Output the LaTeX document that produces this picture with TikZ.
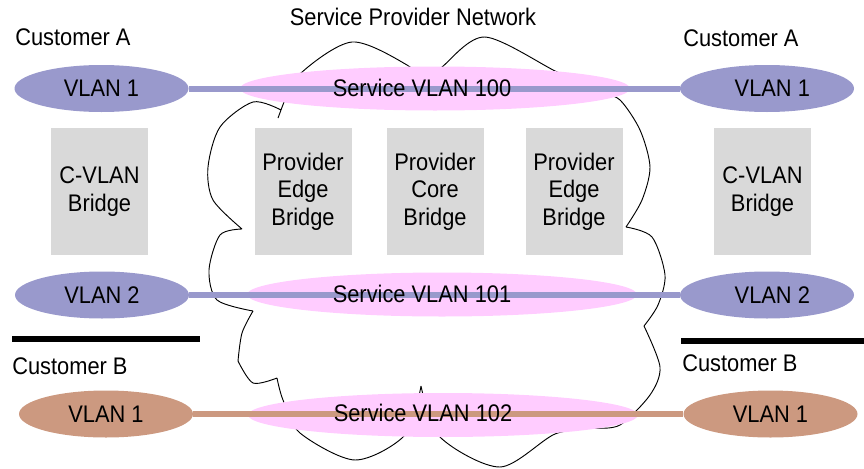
\documentclass[tikz,border=0pt]{standalone}
\usepackage{fontspec}
\setmainfont{Liberation Sans}[FakeStretch=0.91]
\usetikzlibrary{shapes,positioning}
\definecolor{custA}{HTML}{9999CC}
\definecolor{custB}{HTML}{CC9980}
\definecolor{svlanpink}{HTML}{FFCCFF}
\definecolor{bridgegray}{HTML}{D9D9D9}

\begin{document}
\begin{tikzpicture}[x=0.75pt,y=-0.75pt,
		font=\fontsize{18}{20.5}\selectfont,
		vlan/.style={ellipse,inner sep=0pt,minimum width=130.5pt,minimum height=35.25pt},
		svlan/.style={ellipse,fill=svlanpink,inner sep=0pt,minimum width=292.5pt,minimum height=33pt},
		bridgebox/.style={rectangle,fill=bridgegray,inner sep=0pt,minimum width=72.75pt,minimum height=95.25pt,align=center},
		custlabel/.style={anchor=west,inner sep=0pt},
		link/.style={line width=4.5pt},
		bar/.style={line width=4.5pt,black}]
		\useasboundingbox (0,0) rectangle (864,468);

		% Provider cloud (lobes meet at cusps)
		\draw[line width=0.7pt] (278,118) -- (281,110)
			plot[smooth] coordinates {(281,110) (300,74) (352,42) (407,65) (425,84)}
			plot[smooth] coordinates {(425,84) (442,67) (485,37) (557,72) (600,92)}
			plot[smooth] coordinates {(600,92) (620,100) (640,130) (650,167) (642,200) (626,227)}
			plot[smooth] coordinates {(626,227) (652,237) (665,275) (658,305) (644,326)}
			plot[smooth] coordinates {(644,326) (660,367) (650,395) (620,425) (595,428)}
			plot[smooth] coordinates {(595,428) (555,434) (500,467) (440,437) (421,386)}
			plot[smooth] coordinates {(421,386) (405,435) (355,460) (300,433) (283,400) (277,378)}
			plot[smooth] coordinates {(277,378) (253,383) (238,361)}
			plot[smooth] coordinates {(238,361) (242,333) (253,311)}
			plot[smooth] coordinates {(253,311) (217,300) (209,270) (220,235) (242,229)}
			plot[smooth] coordinates {(242,229) (213,200) (208,167) (220,127) (253,102) (281,110)};
		\node at (413,17) {Service Provider Network};

		% Service VLANs
		\node[svlan] (sv100) at (435,88.5) {};
		\node[svlan] (sv101) at (442,294.5) {};
		\node[svlan] (sv102) at (443,415) {};

		% Bridges
		\node[bridgebox] (cvlanL) at (99.5,191.5) {C-VLAN\\Bridge};
		\node[bridgebox] (peL) at (303,191.5) {Provider\\Edge\\Bridge};
		\node[bridgebox] (pc) at (435,191.5) {Provider\\Core\\Bridge};
		\node[bridgebox] (peR) at (574,191.5) {Provider\\Edge\\Bridge};
		\node[bridgebox] (cvlanR) at (762.5,191.5) {C-VLAN\\Bridge};

		% Customer A
		\node[custlabel] at (15,37) {Customer A};
		\node[custlabel] at (683,38) {Customer A};
		\node[vlan,fill=custA] (a1L) at (101.5,88.5) {VLAN 1};
		\node[vlan,fill=custA] (a1R) at (767,88.5) {\hspace{8pt}VLAN 1};
		\node[vlan,fill=custA] (a2L) at (102,295) {VLAN 2};
		\node[vlan,fill=custA] (a2R) at (767,295) {\hspace{8pt}VLAN 2};
		\draw[link,custA] (a1L) -- (a1R);
		\draw[link,custA] (a2L) -- (a2R);

		% Customer B
		\draw[bar] (12,339) -- (200,339);
		\draw[bar] (681,341) -- (864,341);
		\node[custlabel] at (12,366) {Customer B};
		\node[custlabel] at (682,363) {Customer B};
		\node[vlan,fill=custB] (b1L) at (106,414) {VLAN 1};
		\node[vlan,fill=custB] (b1R) at (770.5,414) {VLAN 1};
		\draw[link,custB] (b1L) -- (b1R);

		% Labels
		\node at (422,88) {Service VLAN 100};
		\node at (422,294) {Service VLAN 101};
		\node at (423,413) {Service VLAN 102};
	\end{tikzpicture}
\end{document}
